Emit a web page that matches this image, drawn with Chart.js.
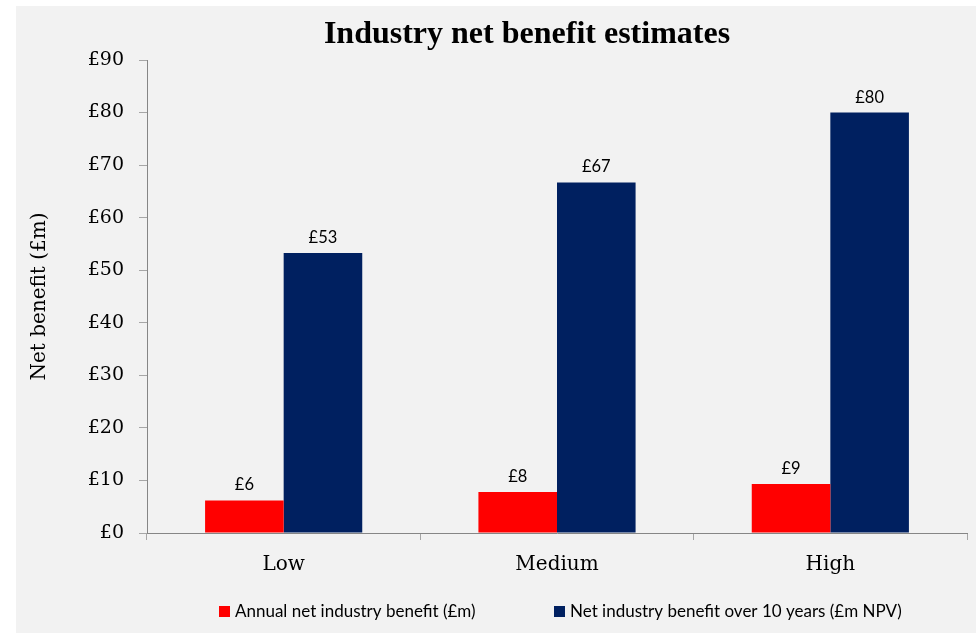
<!DOCTYPE html>
<html>
<head>
<meta charset="utf-8">
<script src="https://cdn.jsdelivr.net/npm/chart.js@4.4.1/dist/chart.umd.min.js"></script>
<style>
    html, body { margin: 0; padding: 0; background: #ffffff; }
    #wrap { position: absolute; left: 16px; top: 6px; width: 960px; height: 627px; background: #f2f2f2; }
</style>
</head>
<body>
<div id="wrap"><canvas id="benefitChart" width="960" height="627"></canvas></div>
<script>
// chart values
const categories = ['Low', 'Medium', 'High'];
const annualBenefit = [6.2, 7.8, 9.3];
const tenYearBenefit = [53.3, 66.7, 80.0];
const seriesNames = ['Annual net industry benefit (£m)', 'Net industry benefit over 10 years (£m NPV)'];
const yTicks = [0, 10, 20, 30, 40, 50, 60, 70, 80, 90];

const serif = "'DejaVu Serif', serif";
const sans = "Lato, 'Open Sans', sans-serif";

// title, bar value labels and legend drawn by hand
const extrasPlugin = {
    id: 'extras',
    afterDraw(chart) {
        const ctx = chart.ctx;
        ctx.save();

        // title
        ctx.fillStyle = '#000000';
        ctx.font = "bold 32px 'Liberation Serif', serif";
        ctx.textAlign = 'center';
        ctx.textBaseline = 'alphabetic';
        ctx.fillText('Industry net benefit estimates', 511, 37);

        // value labels above bars
        ctx.font = '16.5px ' + sans;
        chart.data.datasets.forEach((ds, i) => {
            chart.getDatasetMeta(i).data.forEach((bar, j) => {
                ctx.fillText('£' + Math.round(ds.data[j]), bar.x, bar.y - 10);
            });
        });

        // legend
        ctx.font = '17px ' + sans;
        ctx.textAlign = 'left';
        const legendX = [203, 538];
        chart.data.datasets.forEach((ds, i) => {
            ctx.fillStyle = ds.backgroundColor;
            ctx.fillRect(legendX[i], 600, 11, 11);
            ctx.fillStyle = '#000000';
            ctx.fillText(ds.label, legendX[i] + 16, 611);
        });

        ctx.restore();
    }
};

const ctx = document.getElementById('benefitChart').getContext('2d');
const chart = new Chart(ctx, {
    type: 'bar',
    data: {
        labels: categories,
        datasets: [{
            label: seriesNames[0],
            data: annualBenefit,
            backgroundColor: '#ff0000',
        }, {
            label: seriesNames[1],
            data: tenYearBenefit,
            backgroundColor: '#002060',
        }],
    },
    options: {
        responsive: false,
        animation: false,
        layout: {
            padding: { top: 54, right: 9, bottom: 50, left: 0 },
        },
        datasets: {
            bar: { categoryPercentage: 0.575, barPercentage: 1.0 },
        },
        plugins: {
            legend: { display: false },
            title: { display: false },
            tooltip: { enabled: false },
        },
        scales: {
            x: {
                afterFit(scale) { scale.height = 50; },
                grid: {
                    display: true,
                    drawOnChartArea: false,
                    tickLength: 7,
                    color: '#a6a6a6',
                },
                border: { color: '#868686' },
                ticks: {
                    color: '#000000',
                    padding: 13,
                    font: { family: serif, size: 20 },
                },
            },
            y: {
                min: 0,
                max: 90,
                afterFit(scale) { scale.width = 131; },
                afterBuildTicks(scale) {
                    scale.ticks = yTicks.map((v) => ({ value: v }));
                },
                grid: {
                    display: true,
                    drawOnChartArea: false,
                    tickLength: 8,
                    color: '#a6a6a6',
                },
                border: { color: '#868686' },
                ticks: {
                    color: '#000000',
                    padding: 15,
                    font: { family: serif, size: 19 },
                    callback: (v) => '£' + v,
                },
                title: {
                    display: true,
                    text: 'Net benefit (£m)',
                    color: '#000000',
                    padding: { top: 12, bottom: 0 },
                    font: { family: serif, size: 20 },
                },
            },
        },
    },
    plugins: [extrasPlugin],
});
</script>
</body>
</html>
